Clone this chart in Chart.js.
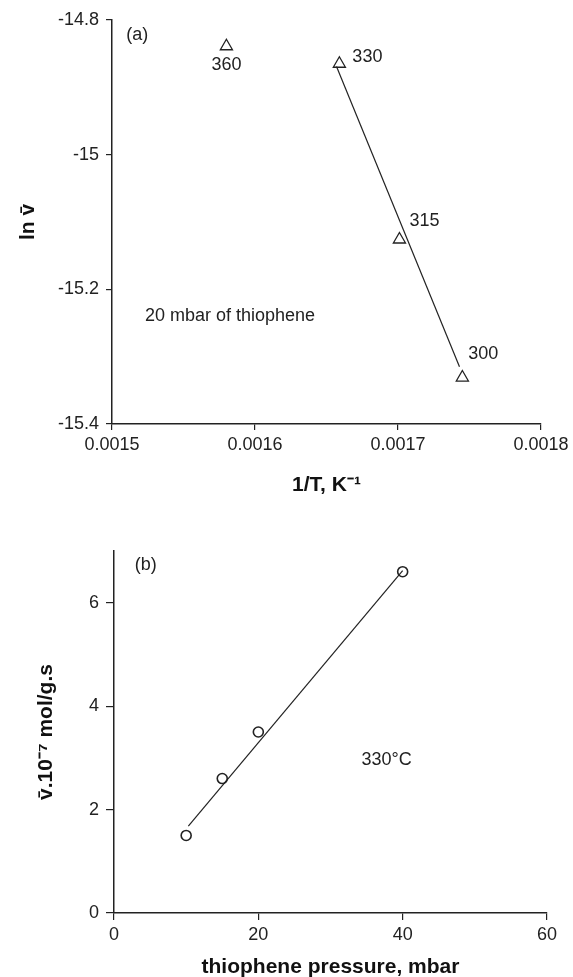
<!DOCTYPE html>
<html>
<head>
<meta charset="utf-8">
<script src="https://cdn.jsdelivr.net/npm/chart.js@4/dist/chart.umd.min.js"></script>
<style>
  body { margin: 0; background: #fff; }
  canvas { display: block; }
</style>
</head>
<body>
<canvas id="chartA" width="573" height="500"></canvas>
<canvas id="chartB" width="573" height="477"></canvas>
<script>
// (a) ln v vs 1/T, 20 mbar thiophene
const invT = [0.00158, 0.001659, 0.001701, 0.001745];
const lnRate = [-14.839, -14.865, -15.126, -15.331];
const tempLabels = ['360', '330', '315', '300'];
const fitInvT = [0.001657, 0.001743];
const fitLnRate = [-14.869, -15.315];
const ticksInvT = [0.0015, 0.0016, 0.0017, 0.0018];
const ticksLnRate = [-15.4, -15.2, -15, -14.8];

// (b) rate vs thiophene pressure at 330°C
const pressure = [10, 15, 20, 40];
const rate = [1.5, 2.6, 3.5, 6.6];
const fitPressure = [10.3, 40];
const fitRate = [1.68, 6.62];
const ticksPressure = [0, 20, 40, 60];
const ticksRate = [0, 2, 4, 6];

const FONT = "'Liberation Sans', Arial, sans-serif";
const INK = '#222';

// label offsets in pixels for the temperature labels
const tempLabelOffsets = [
    { dx: 0, dy: 19, align: 'center' },
    { dx: 13, dy: -7, align: 'left' },
    { dx: 10, dy: -18, align: 'left' },
    { dx: 6, dy: -24, align: 'left' }
];

const textMarks = {
    id: 'textMarks',
    afterDatasetsDraw(chart, args, opts) {
        const ctx = chart.ctx;
        const xs = chart.scales.x, ys = chart.scales.y;
        ctx.save();
        ctx.fillStyle = INK;
        ctx.font = '18px ' + FONT;
        ctx.textBaseline = 'middle';
        (opts.items || []).forEach(it => {
            ctx.textAlign = it.align || 'left';
            ctx.fillText(it.text, xs.getPixelForValue(it.x) + (it.dx || 0), ys.getPixelForValue(it.y) + (it.dy || 0));
        });
        ctx.restore();
    }
};

function axis(min, max, tickVals, fitSize, title, titlePad, horizontal, tickLen) {
    return {
        type: 'linear',
        min: min,
        max: max,
        afterBuildTicks: s => { s.ticks = tickVals.map(v => ({ value: v })); },
        afterFit: s => { if (horizontal) s.height = fitSize; else s.width = fitSize; },
        grid: { drawOnChartArea: false, drawTicks: true, tickLength: tickLen, tickColor: INK, lineWidth: 1.2 },
        border: { display: true, color: INK, width: 1.5 },
        ticks: {
            color: INK,
            font: { family: FONT, size: 18 },
            padding: horizontal ? 4 : 7,
            maxRotation: 0,
            autoSkip: false,
            callback: v => String(v)
        },
        title: {
            display: true,
            text: title,
            color: '#111',
            font: { family: FONT, size: 21, weight: 'bold' },
            padding: titlePad
        }
    };
}

const ptA = tempLabels.map((t, i) => ({
    x: invT[i], y: lnRate[i], text: t,
    dx: tempLabelOffsets[i].dx, dy: tempLabelOffsets[i].dy, align: tempLabelOffsets[i].align
}));

new Chart(document.getElementById('chartA'), {
    type: 'scatter',
    data: {
        datasets: [{
            data: invT.map((v, i) => ({ x: v, y: lnRate[i] })),
            pointStyle: 'triangle',
            pointRadius: 7,
            backgroundColor: 'rgba(255,255,255,0)',
            borderColor: INK,
            borderWidth: 1.3
        }, {
            data: fitInvT.map((v, i) => ({ x: v, y: fitLnRate[i] })),
            showLine: true,
            pointRadius: 0,
            borderColor: INK,
            borderWidth: 1.2
        }]
    },
    options: {
        responsive: false,
        animation: false,
        layout: { padding: { left: 0, right: 32, top: 20, bottom: 0 } },
        plugins: {
            legend: { display: false },
            tooltip: { enabled: false },
            textMarks: {
                items: ptA.concat([
                    { x: 0.00151, y: -14.8216, text: '(a)' },
                    { x: 0.001523, y: -15.239, text: '20 mbar of thiophene' }
                ])
            }
        },
        scales: {
            x: axis(0.0015, 0.0018, ticksInvT, 76, '1/T, K\u207B\u00B9', { top: 0, bottom: 2 }, true, 6),
            y: axis(-15.4, -14.8, ticksLnRate, 112, 'ln v\u0304', { top: 16, bottom: 0 }, false, 6)
        }
    },
    plugins: [textMarks]
});

new Chart(document.getElementById('chartB'), {
    type: 'scatter',
    data: {
        datasets: [{
            data: pressure.map((v, i) => ({ x: v, y: rate[i] })),
            pointStyle: 'circle',
            pointRadius: 5,
            backgroundColor: 'rgba(255,255,255,0)',
            borderColor: INK,
            borderWidth: 1.6
        }, {
            data: fitPressure.map((v, i) => ({ x: v, y: fitRate[i] })),
            showLine: true,
            pointRadius: 0,
            borderColor: INK,
            borderWidth: 1.2
        }]
    },
    options: {
        responsive: false,
        animation: false,
        layout: { padding: { left: 0, right: 26, top: 51, bottom: 0 } },
        plugins: {
            legend: { display: false },
            tooltip: { enabled: false },
            textMarks: {
                items: [
                    { x: 2.87, y: 6.72, text: '(b)' },
                    { x: 34.3, y: 2.96, text: '330\u00B0C' }
                ]
            }
        },
        scales: {
            x: axis(0, 60, ticksPressure, 64, 'thiophene pressure, mbar', { top: 0, bottom: -3 }, true, 7),
            y: axis(0, 7, ticksRate, 114, 'v\u0304.10\u207B\u2077 mol/g.s', { top: 34, bottom: 0 }, false, 8)
        }
    },
    plugins: [textMarks]
});
</script>
</body>
</html>
